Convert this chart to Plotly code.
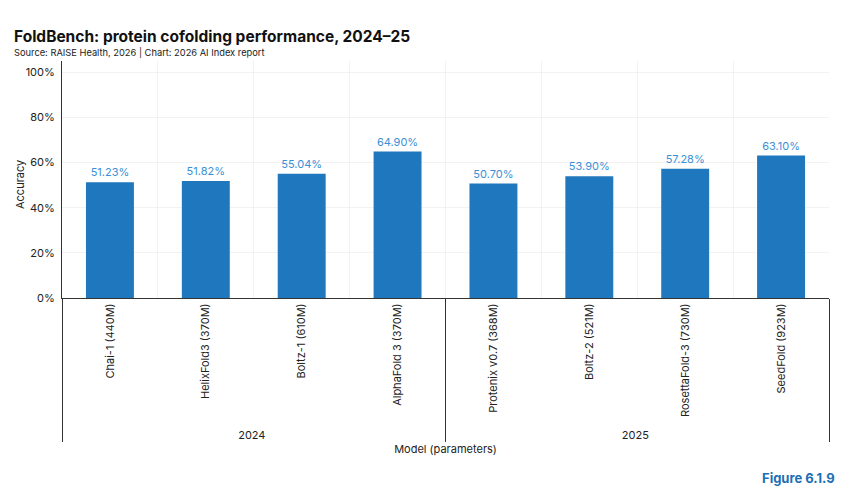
import plotly.graph_objects as go

years = ["2024"] * 4 + ["2025"] * 4
models = ["Chai-1 (440M)", "HelixFold3 (370M)", "Boltz-1 (610M)", "AlphaFold 3 (370M)",
          "Protenix v0.7 (368M)", "Boltz-2 (521M)", "RosettaFold-3 (730M)", "SeedFold (923M)"]
accuracy = [51.23, 51.82, 55.04, 64.90, 50.70, 53.90, 57.28, 63.10]
ytick_vals = [0, 20, 40, 60, 80, 100]
ytick_text = ["0%", "20%", "40%", "60%", "80%", "100%"]

FONT = "Inter, Roboto, Arial, sans-serif"
L, R, T, B = 62, 21, 61, 201
W, H = 850, 499
plot_w = W - L - R
plot_h = H - T - B


def px_x(px):
    return (px - L) / plot_w


def px_y(py):
    return (H - B - py) / plot_h


fig = go.Figure(go.Bar(
    x=[years, models], y=accuracy,
    marker=dict(color="#1f77bd", line=dict(width=0)),
    text=[f"{v:.2f}%" for v in accuracy], textposition="outside",
    textfont=dict(color="#3b8fd6", size=11, family=FONT),
    cliponaxis=False,
))

fig.update_layout(
    width=W, height=H,
    margin=dict(l=L, r=R, t=T, b=B),
    paper_bgcolor="white", plot_bgcolor="white",
    bargap=0.5,
    showlegend=False,
    font=dict(family=FONT, size=11, color="#222"),
    annotations=[
        dict(text="<b>FoldBench: protein cofolding performance, 2024–25</b>", x=px_x(12), y=px_y(37),
             xref="paper", yref="paper", showarrow=False, xanchor="left", yanchor="middle",
             font=dict(size=15.5, color="#111", family=FONT)),
        dict(text="Source: RAISE Health, 2026 | Chart: 2026 AI Index report", x=px_x(12), y=px_y(53),
             xref="paper", yref="paper", showarrow=False, xanchor="left", yanchor="middle",
             font=dict(size=9.3, color="#222", family=FONT)),
        dict(text="<b>Figure 6.1.9</b>", x=px_x(837), y=px_y(478), xref="paper", yref="paper",
             showarrow=False, xanchor="right", yanchor="middle",
             font=dict(size=13, color="#1c6fb5", family=FONT)),
        dict(text="Accuracy", x=px_x(20), y=px_y(185), xref="paper", yref="paper",
             showarrow=False, xanchor="center", yanchor="middle", textangle=-90,
             font=dict(size=11, color="#222", family=FONT)),
    ],
)

fig.update_yaxes(
    range=[0, 105], tickmode="array", tickvals=ytick_vals, ticktext=ytick_text,
    showgrid=True, gridcolor="#f2f2f2", gridwidth=1,
    showline=True, linecolor="#333", linewidth=1,
    ticks="", ticklabelstandoff=4,
    tickfont=dict(size=11), zeroline=False,
)
fig.update_xaxes(
    tickangle=-90, tickson="boundaries",
    showgrid=True, gridcolor="#f2f2f2",
    showline=True, linecolor="#333", linewidth=1,
    showdividers=True, dividercolor="#333", dividerwidth=1,
    ticks="", tickfont=dict(size=11),
    title=dict(text="Model (parameters)", font=dict(size=11), standoff=4),
)

fig.write_html("out.html")
